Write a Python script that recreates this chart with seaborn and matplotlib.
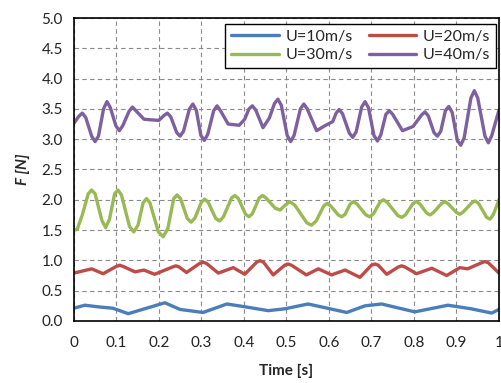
import matplotlib
matplotlib.use("Agg")
import matplotlib.pyplot as plt
import seaborn as sns
import pandas as pd
from matplotlib.lines import Line2D

# ---- data (time [s], force [N]) ----
labels = ["U=10m/s", "U=20m/s", "U=30m/s", "U=40m/s"]
colors = ["#4A7EBB", "#BE4B48", "#98B954", "#7D60A0"]

s10 = [(0.0, 0.21), (0.026, 0.26), (0.061, 0.23), (0.092, 0.21), (0.128, 0.12),
       (0.171, 0.21), (0.214, 0.30), (0.25, 0.19), (0.304, 0.14), (0.36, 0.28),
       (0.406, 0.23), (0.457, 0.17), (0.496, 0.20), (0.551, 0.28), (0.642, 0.14),
       (0.685, 0.25), (0.724, 0.28), (0.802, 0.15), (0.88, 0.26), (0.935, 0.20),
       (0.983, 0.13), (1.0, 0.19)]

s20 = [(0.0, 0.79), (0.042, 0.86), (0.069, 0.78), (0.1, 0.90), (0.108, 0.92),
       (0.116, 0.90), (0.144, 0.81), (0.165, 0.84), (0.19, 0.77), (0.232, 0.89),
       (0.24, 0.91), (0.248, 0.89), (0.265, 0.80), (0.296, 0.95), (0.304, 0.97),
       (0.312, 0.95), (0.34, 0.79), (0.375, 0.88), (0.402, 0.77), (0.43, 0.97),
       (0.438, 0.995), (0.446, 0.97), (0.469, 0.76), (0.496, 0.92), (0.504, 0.94),
       (0.512, 0.92), (0.547, 0.76), (0.575, 0.86), (0.606, 0.76), (0.638, 0.84),
       (0.673, 0.72), (0.7, 0.92), (0.708, 0.94), (0.716, 0.92), (0.736, 0.77),
       (0.763, 0.89), (0.771, 0.91), (0.779, 0.89), (0.806, 0.78), (0.842, 0.87),
       (0.877, 0.75), (0.908, 0.88), (0.926, 0.86), (0.959, 0.96), (0.967, 0.98),
       (0.975, 0.96), (1.0, 0.79)]

s30 = [(0.0, 1.50), (0.008, 1.51), (0.02, 1.75), (0.034, 2.10), (0.042, 2.16),
       (0.05, 2.10), (0.066, 1.66), (0.075, 1.54), (0.084, 1.68), (0.096, 2.10),
       (0.104, 2.16), (0.112, 2.08), (0.131, 1.56), (0.141, 1.47), (0.151, 1.58),
       (0.163, 1.95), (0.171, 2.02), (0.179, 1.95), (0.199, 1.47), (0.21, 1.39),
       (0.221, 1.52), (0.235, 2.02), (0.243, 2.08), (0.251, 2.02), (0.267, 1.69),
       (0.276, 1.63), (0.285, 1.70), (0.3, 1.96), (0.308, 2.01), (0.316, 1.96),
       (0.334, 1.69), (0.343, 1.65), (0.352, 1.72), (0.371, 2.03), (0.379, 2.07),
       (0.387, 2.02), (0.404, 1.76), (0.412, 1.72), (0.42, 1.77), (0.436, 2.03),
       (0.444, 2.07), (0.452, 2.03), (0.474, 1.86), (0.485, 1.83), (0.497, 1.91),
       (0.508, 1.97), (0.52, 1.91), (0.548, 1.62), (0.559, 1.58), (0.57, 1.65),
       (0.588, 1.90), (0.596, 1.94), (0.604, 1.90), (0.622, 1.75), (0.63, 1.72),
       (0.638, 1.76), (0.65, 1.93), (0.658, 1.97), (0.666, 1.93), (0.687, 1.75),
       (0.696, 1.72), (0.705, 1.77), (0.72, 1.96), (0.728, 2.00), (0.737, 1.96),
       (0.762, 1.74), (0.771, 1.71), (0.78, 1.75), (0.798, 1.94), (0.806, 1.97),
       (0.814, 1.93), (0.83, 1.78), (0.838, 1.75), (0.846, 1.79), (0.865, 1.94),
       (0.873, 1.97), (0.881, 1.93), (0.9, 1.79), (0.908, 1.76), (0.916, 1.80),
       (0.936, 1.95), (0.944, 1.98), (0.952, 1.94), (0.971, 1.71), (0.979, 1.68),
       (0.987, 1.76), (1.0, 2.00)]

s40 = [(0.0, 3.26), (0.012, 3.38), (0.02, 3.43), (0.028, 3.36), (0.042, 3.05),
       (0.05, 2.96), (0.058, 3.05), (0.07, 3.50), (0.078, 3.62), (0.086, 3.52),
       (0.099, 3.22), (0.107, 3.14), (0.115, 3.22), (0.13, 3.46), (0.138, 3.53),
       (0.146, 3.47), (0.165, 3.33), (0.18, 3.32), (0.2, 3.31), (0.212, 3.39),
       (0.22, 3.43), (0.228, 3.37), (0.242, 3.11), (0.25, 3.05), (0.258, 3.13),
       (0.272, 3.50), (0.28, 3.58), (0.288, 3.48), (0.299, 3.06), (0.307, 2.98),
       (0.315, 3.08), (0.329, 3.47), (0.337, 3.55), (0.345, 3.47), (0.363, 3.25),
       (0.375, 3.24), (0.389, 3.23), (0.402, 3.33), (0.412, 3.50), (0.42, 3.55),
       (0.428, 3.48), (0.445, 3.19), (0.46, 3.35), (0.472, 3.59), (0.48, 3.66),
       (0.488, 3.56), (0.502, 3.06), (0.51, 2.96), (0.518, 3.06), (0.533, 3.50),
       (0.541, 3.58), (0.549, 3.50), (0.571, 3.14), (0.59, 3.22), (0.609, 3.29),
       (0.617, 3.43), (0.624, 3.49), (0.632, 3.42), (0.648, 3.10), (0.656, 3.03),
       (0.664, 3.12), (0.677, 3.53), (0.685, 3.62), (0.693, 3.52), (0.706, 3.06),
       (0.714, 2.97), (0.722, 3.07), (0.734, 3.41), (0.742, 3.47), (0.75, 3.41),
       (0.773, 3.14), (0.798, 3.21), (0.818, 3.40), (0.826, 3.45), (0.834, 3.38),
       (0.847, 3.11), (0.855, 3.05), (0.863, 3.13), (0.874, 3.47), (0.882, 3.54),
       (0.89, 3.44), (0.902, 2.98), (0.91, 2.90), (0.918, 3.02), (0.934, 3.68),
       (0.942, 3.80), (0.95, 3.68), (0.967, 3.05), (0.975, 2.94), (0.983, 3.06),
       (1.0, 3.48)]

xticks = [0, 0.1, 0.2, 0.3, 0.4, 0.5, 0.6, 0.7, 0.8, 0.9, 1]
xticklabels = ["0", "0.1", "0.2", "0.3", "0.4", "0.5", "0.6", "0.7", "0.8", "0.9", "1"]
yticks = [0.0, 0.5, 1.0, 1.5, 2.0, 2.5, 3.0, 3.5, 4.0, 4.5, 5.0]

frames = []
for lab, s in zip(labels, [s10, s20, s30, s40]):
    t, f = zip(*s)
    frames.append(pd.DataFrame({"Time": list(t), "F": list(f), "series": lab}))
df = pd.concat(frames, ignore_index=True)

sns.set_style("white")
plt.rcParams["font.family"] = ["Lato", "DejaVu Sans"]

fig = plt.figure(figsize=(5.02, 3.83), dpi=100)
ax = fig.add_axes([0.147, 0.162, 0.847, 0.791])

sns.lineplot(data=df, x="Time", y="F", hue="series", hue_order=labels,
             palette=colors, linewidth=2.4, ax=ax, legend=False, sort=False,
             estimator=None)
for ln in ax.get_lines():
    ln.set_solid_joinstyle("round")
    ln.set_solid_capstyle("round")

ax.set_xlim(0, 1)
ax.set_ylim(0, 5)
ax.set_xticks(xticks)
ax.set_xticklabels(xticklabels)
ax.set_yticks(yticks)
ax.set_yticklabels([f"{v:.1f}" for v in yticks])
ax.grid(True, color="#8a8a8a", linestyle=(0, (4, 3)), linewidth=0.8)
ax.set_axisbelow(True)

for s in ax.spines.values():
    s.set_color("black")
    s.set_linewidth(1.2)
ax.tick_params(axis="both", direction="out", length=4, width=1.5, color="black",
               labelsize=11, labelcolor="#222222", pad=4)
ax.tick_params(axis="x", pad=7)

ax.set_xlabel("Time [s]", fontsize=11, fontweight="bold", labelpad=10)
ax.set_ylabel("F [N]", fontsize=11, fontweight="bold", fontstyle="italic",
              labelpad=8)

handles = [Line2D([0], [0], color=c, lw=2.4) for c in colors]
order = [0, 2, 1, 3]
leg = ax.legend([handles[i] for i in order], [labels[i] for i in order],
                ncol=2, loc="upper right", bbox_to_anchor=(1.0, 0.99),
                frameon=True, fancybox=False, fontsize=11.5, handlelength=3.0,
                columnspacing=1.0, handletextpad=0.4, borderpad=0.35,
                labelspacing=0.25, borderaxespad=0.2)
leg.get_frame().set_edgecolor("black")
leg.get_frame().set_linewidth(1.0)
leg.get_frame().set_alpha(1.0)

fig.savefig("out.png", dpi=100)
